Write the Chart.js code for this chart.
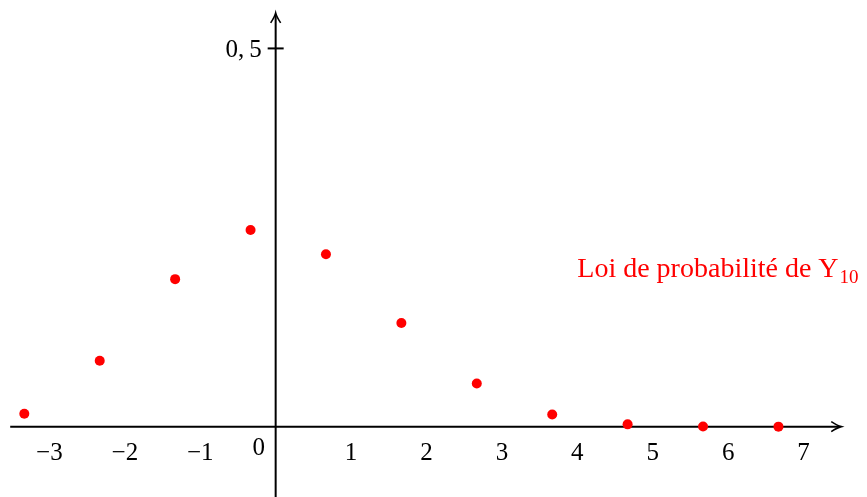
<!DOCTYPE html>
<html>
<head>
<meta charset="utf-8">
<script src="https://cdn.jsdelivr.net/npm/chart.js@4"></script>
<style>
  html, body { margin: 0; padding: 0; background: #fff; }
  #wrap { width: 867px; height: 497px; }
</style>
</head>
<body>
<div id="wrap"><canvas id="c" width="867" height="497"></canvas></div>
<script>
// Values of Y10 and their probabilities
var xValues = [-3.333, -2.333, -1.333, -0.333, 0.667, 1.667, 2.667, 3.667, 4.667, 5.667, 6.667];
var probValues = [0.017, 0.087, 0.195, 0.260, 0.228, 0.137, 0.057, 0.016, 0.003, 0.0003, 0.00002];
var xTicks = [-3, -2, -1, 1, 2, 3, 4, 5, 6, 7];
var yTicks = [0.5];
var yTickLabels = ['0,\u20095'];
var seriesLabel = 'Loi de probabilité de Y';

var tickFont = '25px "Liberation Serif"';

// Draws the axes through the origin, with arrows, ticks and labels
var axesPlugin = {
    id: 'axesThroughOrigin',
    beforeDatasetsDraw: function (chart) {
        var ctx = chart.ctx;
        var xs = chart.scales.x;
        var ys = chart.scales.y;
        var x0 = xs.getPixelForValue(0);
        var y0 = ys.getPixelForValue(0);
        var xLeft = xs.getPixelForValue(-3.52);
        var xRight = xs.getPixelForValue(7.50);
        var yBottom = ys.getPixelForValue(-0.1);
        var yTop = ys.getPixelForValue(0.547);

        ctx.save();
        ctx.strokeStyle = '#000';
        ctx.fillStyle = '#000';
        ctx.lineWidth = 2;

        // x axis
        ctx.beginPath();
        ctx.moveTo(xLeft, y0);
        ctx.lineTo(xRight - 2, y0);
        ctx.stroke();
        // y axis
        ctx.beginPath();
        ctx.moveTo(x0, yBottom);
        ctx.lineTo(x0, yTop + 2);
        ctx.stroke();

        // arrow heads
        ctx.lineWidth = 1.6;
        ctx.beginPath();
        ctx.moveTo(xRight - 10, y0 - 5);
        ctx.quadraticCurveTo(xRight - 4, y0 - 1, xRight, y0);
        ctx.quadraticCurveTo(xRight - 4, y0 + 1, xRight - 10, y0 + 5);
        ctx.stroke();
        ctx.beginPath();
        ctx.moveTo(x0 - 5, yTop + 10);
        ctx.quadraticCurveTo(x0 - 1, yTop + 4, x0, yTop);
        ctx.quadraticCurveTo(x0 + 1, yTop + 4, x0 + 5, yTop + 10);
        ctx.stroke();

        // x tick labels
        ctx.font = tickFont;
        ctx.textAlign = 'center';
        ctx.textBaseline = 'alphabetic';
        xTicks.forEach(function (t) {
            var label = t < 0 ? '\u2212' + Math.abs(t) : String(t);
            ctx.fillText(label, xs.getPixelForValue(t), y0 + 33);
        });
        // origin label
        ctx.fillText('0', x0 - 17, y0 + 28);

        // y ticks
        ctx.lineWidth = 2;
        ctx.textAlign = 'right';
        ctx.textBaseline = 'middle';
        yTicks.forEach(function (t, i) {
            var py = ys.getPixelForValue(t);
            ctx.beginPath();
            ctx.moveTo(x0 - 8, py);
            ctx.lineTo(x0 + 8, py);
            ctx.stroke();
            ctx.fillText(yTickLabels[i], x0 - 14, py + 2);
        });

        // series label
        ctx.fillStyle = '#ff0000';
        ctx.textAlign = 'left';
        ctx.textBaseline = 'alphabetic';
        ctx.font = '28px "Liberation Serif"';
        var lx = xs.getPixelForValue(4.0);
        var ly = ys.getPixelForValue(0.198);
        ctx.fillText(seriesLabel, lx, ly);
        var w = ctx.measureText(seriesLabel).width;
        ctx.font = '19px "Liberation Serif"';
        ctx.fillText('10', lx + w + 1, ly + 6);

        ctx.restore();
    }
};

new Chart(document.getElementById('c'), {
    type: 'scatter',
    data: {
        datasets: [{
            data: xValues.map(function (x, i) { return { x: x, y: probValues[i] }; }),
            backgroundColor: '#ff0000',
            borderColor: '#ff0000',
            pointRadius: 5,
            borderWidth: 0
        }]
    },
    options: {
        responsive: false,
        animation: false,
        clip: false,
        layout: { padding: 0 },
        plugins: {
            legend: { display: false },
            tooltip: { enabled: false },
            title: { display: false }
        },
        scales: {
            x: { type: 'linear', display: false, min: -3.589, max: 7.775 },
            y: { type: 'linear', display: false, min: -0.0864, max: 0.5574 }
        }
    },
    plugins: [axesPlugin]
});
</script>
</body>
</html>
